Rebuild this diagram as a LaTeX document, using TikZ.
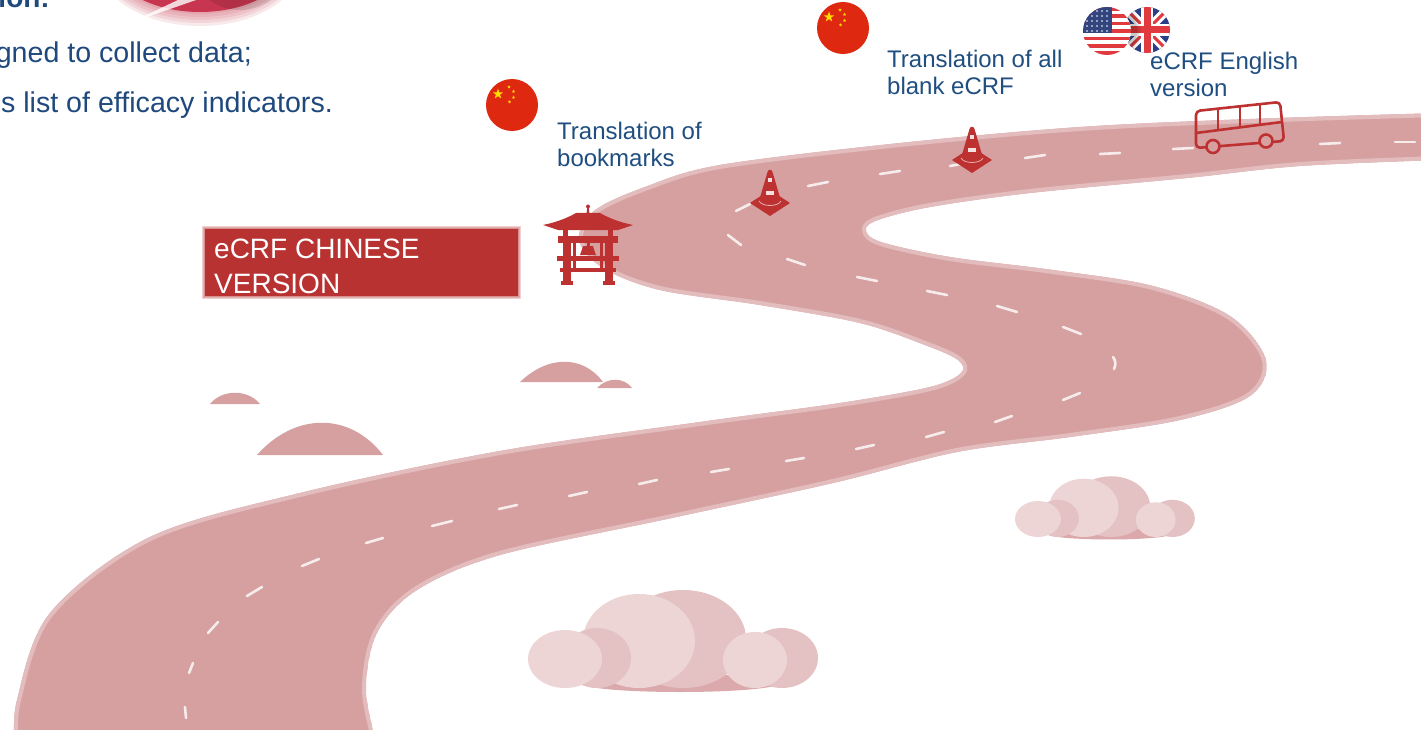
\documentclass[tikz,border=0pt]{standalone}
\usepackage{fontspec}
\setmainfont{Liberation Sans}
\usetikzlibrary{shapes.geometric}

\definecolor{road}{HTML}{D6A0A1}
\definecolor{roadedge}{HTML}{E3BCBD}
\definecolor{dashwhite}{HTML}{F7ECEC}
\definecolor{txtblue}{HTML}{1F497D}
\definecolor{lblblue}{HTML}{1F4E80}
\definecolor{boxred}{HTML}{B93232}
\definecolor{iconred}{HTML}{BD3131}
\definecolor{cnred}{HTML}{DE2910}
\definecolor{cnyellow}{HTML}{FFDE00}
\definecolor{cloudlight}{HTML}{EDD5D6}
\definecolor{clouddark}{HTML}{E4C2C3}
\definecolor{cloudshadow}{HTML}{DBA9AB}
\definecolor{usred}{HTML}{E0393E}
\definecolor{usblue}{HTML}{33457F}
\definecolor{ukblue}{HTML}{2B3F86}
\definecolor{ukred}{HTML}{E0393E}
\definecolor{blobred}{HTML}{C42A44}

\tikzset{
  lanemark/.style={draw=dashwhite, line width=2.6, line cap=round},
  hill/.style={fill=road},
  maintext/.style={txtblue, inner sep=0, font=\fontsize{28.6}{34}\selectfont},
  lbltext/.style={lblblue, inner sep=0, font=\fontsize{24}{29}\selectfont},
  boxtext/.style={white, inner sep=0, font=\fontsize{28}{35}\selectfont},
  cloud/.pic={
    \fill[cloudshadow] (152,-5) ellipse [x radius=100, y radius=9];
    \fill[clouddark] (155,-49) ellipse [x radius=63, y radius=49];
    \fill[cloudlight] (111,-47) ellipse [x radius=56, y radius=47];
    \fill[clouddark] (69,-30) ellipse [x radius=34, y radius=30];
    \fill[cloudlight] (37,-29) ellipse [x radius=37, y radius=29];
    \fill[clouddark] (254,-30) ellipse [x radius=36, y radius=30];
    \fill[cloudlight] (227,-28) ellipse [x radius=32, y radius=28];
  },
  cone/.pic={
    \fill[iconred] (-20,0) -- (0,-13) -- (20,0) -- (0,13) -- cycle;
    \fill[iconred] (-11,-2) -- (-2.5,-31) .. controls (-1.5,-34) and (1.5,-34) .. (2.5,-31) -- (11,-2) -- cycle;
    \draw[white, opacity=0.6, line width=0.8] (-11,-2) .. controls (-8,4) and (8,4) .. (11,-2);
    \fill[white, opacity=0.85] (-4,-12) rectangle (4,-7.5);
    \fill[white, opacity=0.85] (-2.2,-25) rectangle (2.2,-21);
  },
  cnflag/.pic={
    \fill[cnred] (0,0) circle (26);
    \node[star, star points=5, star point ratio=2.6, fill=cnyellow, inner sep=0, minimum size=11] at (-14,-11) {};
    \foreach \sx/\sy in {-3/-18, 1.5/-13.5, 1.5/-7.5, -2.5/-3}
      \node[star, star points=5, star point ratio=2.6, fill=cnyellow, inner sep=0, minimum size=3.6] at (\sx,\sy) {};
  }
}

\begin{document}
\begin{tikzpicture}[x=1pt,y=-1pt]
\useasboundingbox (0,0) rectangle (1421,730);
\fill[white] (0,0) rectangle (1421,730);

% ---------------- winding road ----------------
\def\roadpath{plot[smooth, tension=0.55] coordinates {
   (15,745) (17,700) (50,613) (150,537) (300,493) (500,451) (700,422)
   (840,403) (930,387) (961,373) (958,360) (925,345) (860,323) (760,305)
   (660,290) (603,268) (579,240) (594,211) (645,187) (720,165) (900,143)
   (1080,127) (1250,119) (1440,113)}
  -- (1440,160) --
  plot[smooth, tension=0.55] coordinates {
   (1440,160) (1300,166) (1187,178) (1030,193) (930,207) (878,220) (866,230)
   (881,242) (950,257) (1053,270) (1153,286) (1230,316) (1266,360) (1250,396)
   (1180,420) (1070,437) (957,452) (833,483) (667,519) (500,555) (417,590)
   (377,633) (366,690) (377,745)}
  -- cycle}
\begin{scope}
  \clip \roadpath;
  \fill[road] \roadpath;
  \draw[roadedge, line width=8] \roadpath;
\end{scope}

% centre line of the road
\foreach \ax/\ay/\bx/\by in {
  185/707/186/718, 189/673/193/663, 208/633/218/622, 247/596/262/587,
  302/566/319/559, 366/543/383/538, 432/526/452/521, 499/509/517/505,
  569/496/587/492, 639/484/657/480, 711/472/729/469, 786/461/804/458,
  856/449/874/445, 926/437/944/432, 995/422/1012/416, 1063/400/1080/393,
  857/277/877/281, 927/291/947/295, 997/306/1017/312, 1063/327/1081/334,
  787/259/805/265, 728/235/741/245, 736/211/750/204, 808/186/828/182,
  880/174/900/171, 950/166/966/163, 1025/158/1045/155, 1100/154/1120/153,
  1173/149/1193/148, 1320/144/1340/143, 1395/142/1415/142}
  \draw[lanemark] (\ax,\ay) -- (\bx,\by);
\draw[lanemark] (1113,357) .. controls (1116,361) and (1116,365) .. (1114,369);

% ---------------- hills ----------------
\fill[hill] (210,404) .. controls (222,389) and (248,389) .. (260,404) -- cycle;
\fill[hill] (257,455) .. controls (295,412) and (350,412) .. (383,455) -- cycle;
\fill[hill] (520,382) .. controls (548,355) and (583,355) .. (603,382) -- cycle;
\fill[hill] (597,388) .. controls (607,377) and (624,377) .. (632,388) -- cycle;

% ---------------- clouds ----------------
\pic at (528,688) {cloud};
\pic[scale=0.62] at (1015,537) {cloud};

% ---------------- pagoda ----------------
\begin{scope}[iconred]
  \fill (588,206.5) circle (2);
  \fill (586.3,216) -- (587.3,207) -- (588.7,207) -- (589.7,216) -- cycle;
  \fill (543,225) .. controls (558,222) and (569,217) .. (576,213) -- (600,213)
        .. controls (607,217) and (618,222) .. (633,225) -- (618,230) -- (558,230) -- cycle;
  \fill (563,230) rectangle (568,236);
  \fill (608,230) rectangle (613,236);
  \fill (558,236) rectangle (618,243);
  \fill (563,243) rectangle (571,284);
  \fill (605,243) rectangle (613,284);
  \fill (573,243) rectangle (576,272);
  \fill (600,243) rectangle (603,272);
  \fill (557,256) rectangle (619,261);
  \fill (560,268) rectangle (616,272);
  \fill (586.5,243) rectangle (589.5,246);
  \fill (583,246) .. controls (582,250) and (581,252) .. (580,255) -- (596,255)
        .. controls (595,252) and (594,250) .. (593,246) -- cycle;
  \fill (561,281) rectangle (573,285);
  \fill (603,281) rectangle (615,285);
\end{scope}

% ---------------- traffic cones ----------------
\pic at (770,203) {cone};
\pic at (972,160) {cone};

% ---------------- bus ----------------
\begin{scope}[draw=iconred, line width=2.6, line join=round]
  \draw[rounded corners=4] (1196,111) -- (1280,102) -- (1284,141) -- (1196,148) -- cycle;
  \draw (1196,133) -- (1282,122);
  \draw (1218,109) -- (1218,131);
  \draw (1240,106.5) -- (1240,128);
  \draw (1260,104) -- (1260,125.5);
  \draw[fill=road] (1213,146.5) circle (6.5);
  \draw[fill=road] (1266,141) circle (6.5);
\end{scope}

% ---------------- title box ----------------
\foreach \d in {3,2,1}
  \fill[boxred, opacity=0.22] (205-\d,229-\d) rectangle (518+\d,296+\d);
\fill[boxred] (205,229) rectangle (518,296);
\node[boxtext, anchor=base west] (boxa) at (214,258) {eCRF CHINESE};
\node[boxtext, anchor=base west] (boxb) at (214,293) {VERSION};

% ---------------- labels ----------------
\node[lbltext, anchor=base west] (bma) at (557,140) {Translation of};
\node[lbltext, anchor=base west] (bmb) at (557,167) {bookmarks};
\node[lbltext, anchor=base west] (bla) at (887,68) {Translation of all};
\node[lbltext, anchor=base west] (blb) at (887,95) {blank eCRF};
\node[lbltext, anchor=base west] (ena) at (1150,70) {eCRF English};
\node[lbltext, anchor=base west] (enb) at (1150,97) {version};

% ---------------- flags ----------------
\pic at (512,105) {cnflag};
\pic at (843,28) {cnflag};

% union flag
\begin{scope}
  \clip (1147,30) circle (23);
  \fill[ukblue] (1120,5) rectangle (1175,55);
  \draw[white, line width=9] (1124,7) -- (1170,53) (1124,53) -- (1170,7);
  \draw[ukred, line width=3] (1124,7) -- (1170,53) (1124,53) -- (1170,7);
  \draw[white, line width=12] (1122,30) -- (1172,30) (1147,5) -- (1147,55);
  \draw[ukred, line width=7] (1122,30) -- (1172,30) (1147,5) -- (1147,55);
  \foreach \r/\o in {28/0.10, 30/0.08, 32/0.05}
    \fill[black, opacity=\o] (1109,31) circle (\r);
\end{scope}

% stars and stripes
\begin{scope}
  \clip (1107,31) circle (24);
  \fill[white] (1080,5) rectangle (1135,58);
  \foreach \i in {0,2,...,12}
    \fill[usred] (1080,{7+\i*3.7}) rectangle (1135,{7+(\i+1)*3.7});
  \fill[usblue] (1080,5) rectangle (1112,32.9);
  \foreach \cx in {1087,1092,...,1107}
    \foreach \cy in {11,16,...,31}
      \fill[white] (\cx,\cy) circle (0.8);
\end{scope}

% ---------------- text at the top left ----------------
\node[txtblue, inner sep=0, font=\fontsize{28}{34}\selectfont\bfseries, anchor=base east] (head) at (50,8) {ion:};
\node[maintext, anchor=base east] (linea) at (252,63) {gned to collect data;};
\node[maintext, anchor=base east] (lineb) at (333,113) {s list of efficacy indicators.};

% soft red badge edge at the top
\begin{scope}
  \clip (0,0) rectangle (1421,40);
  \foreach \d in {14,11,8,5,2}
    \fill[blobred, opacity=0.10] (200,-38) ellipse [x radius=88+\d, y radius=50+\d];
  \fill[blobred, opacity=0.9] (200,-38) ellipse [x radius=88, y radius=50];
  \fill[black, opacity=0.10] (240,-38) ellipse [x radius=50, y radius=48];
  \fill[white, opacity=0.8] (140,18) -- (178,0) -- (196,0) -- (147,17) -- cycle;
\end{scope}
\end{tikzpicture}
\end{document}
